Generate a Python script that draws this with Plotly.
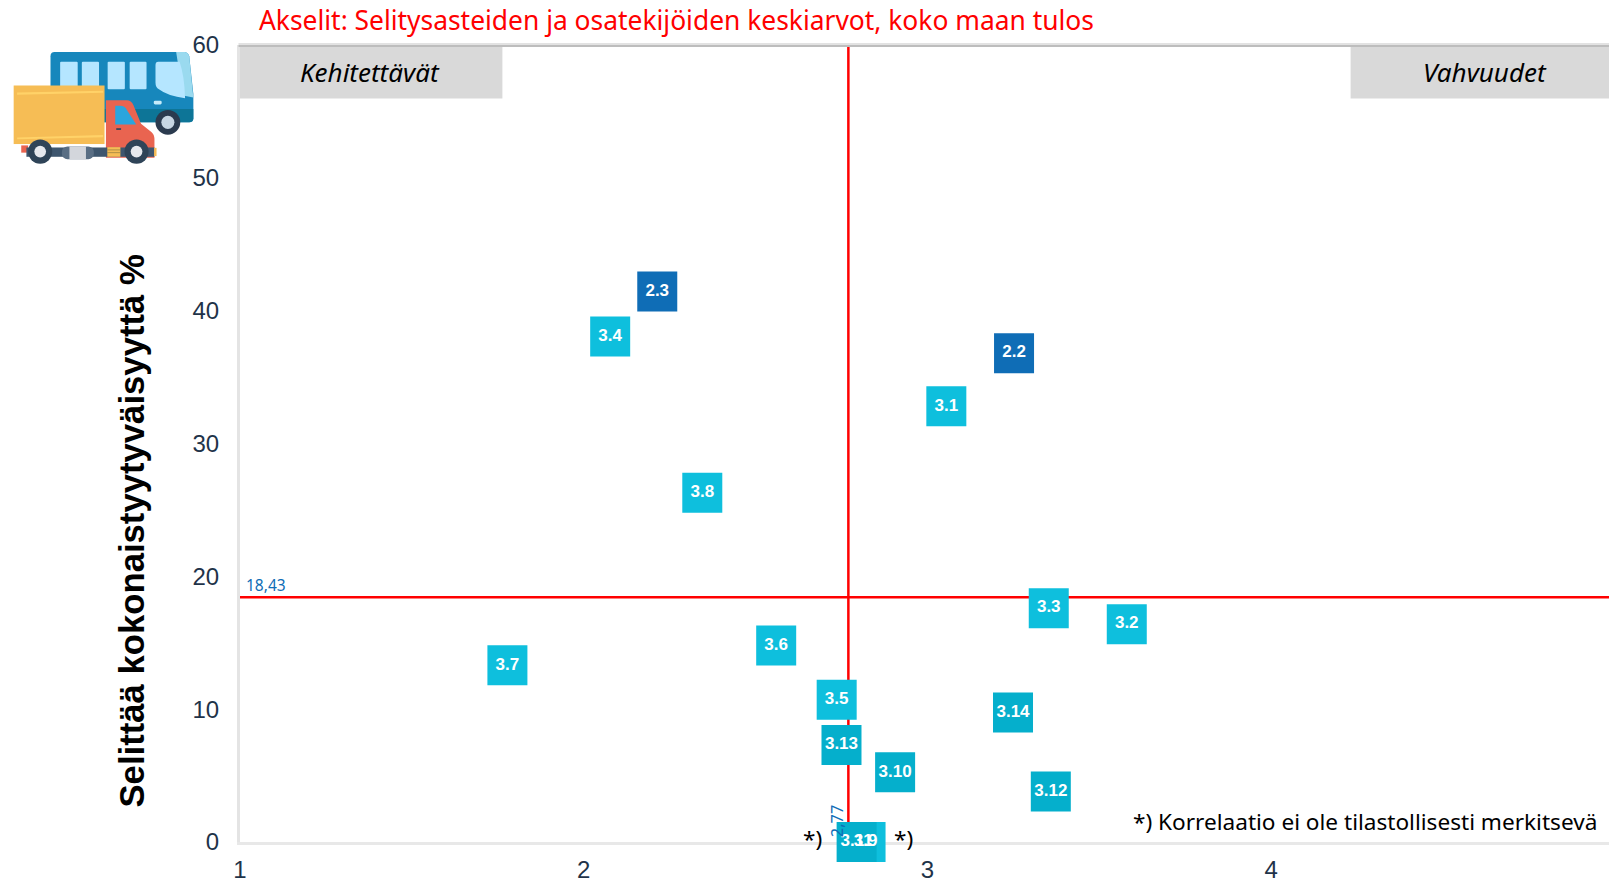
import base64
import plotly.graph_objects as go

W, H = 1609, 879
L, R, T, B = 239.5, 0, 45, 37

labels_a = ["2.3", "2.2"]
x_a = [2.214, 3.252]
y_a = [41.45, 36.8]

labels_b = ["3.4", "3.1", "3.8", "3.3", "3.2", "3.6", "3.7", "3.5", "3.9"]
x_b = [2.077, 3.055, 2.345, 3.353, 3.58, 2.56, 1.778, 2.736, 2.82]
y_b = [38.05, 32.8, 26.3, 17.6, 16.4, 14.8, 13.3, 10.7, 0.0]

labels_c = ["3.14", "3.13", "3.10", "3.12", "3.11"]
x_c = [3.249, 2.75, 2.906, 3.359, 2.794]
y_c = [9.75, 7.3, 5.25, 3.8, 0.0]

mean_x = 2.77
mean_y = 18.43
x_range = [1, 4.983]
y_range = [0, 60]
x_ticks = [1, 2, 3, 4]
y_ticks = [0, 10, 20, 30, 40, 50, 60]

TITLE = "Akselit: Selitysasteiden ja osatekijöiden keskiarvot, koko maan tulos"
Y_TITLE = "Selittää kokonaistyytyväisyyttä %"
NOTE = "*) Korrelaatio ei ole tilastollisesti merkitsevä"


def px(x):
    return (x - L) / (W - L - R)


def py(y):
    return 1 - (y - T) / (H - T - B)


ICON = """<svg xmlns='http://www.w3.org/2000/svg' viewBox='0 0 600 600' width='600' height='600'>
<path d='M145 172q0-12 12-12h375q12 0 16 12l12 110v70q0 12-12 12H145z' fill='#1787BC'/>
<path d='M145 325H560v27q0 12-12 12H145z' fill='#0D7597'/>
<path d='M510 160h24q10 0 14 12l12 120-30-6z' fill='#9ADAEF'/>
<rect x='173' y='188' width='51' height='80' rx='3' fill='#B5E6FF'/>
<rect x='236' y='188' width='50' height='80' rx='3' fill='#B5E6FF'/>
<rect x='311' y='188' width='50' height='80' rx='3' fill='#B5E6FF'/>
<rect x='375' y='188' width='49' height='80' rx='3' fill='#B5E6FF'/>
<path d='M458 188h62q14 40 16 106-50-6-76-26-10-6-10-20v-50q0-10 8-10z' fill='#B5E6FF'/>
<rect x='445' y='301' width='23' height='11' rx='4' fill='#C5EBFA'/>
<circle cx='486' cy='364' r='36' fill='#2B3B4F'/>
<circle cx='486' cy='364' r='19' fill='#C7D6E3'/>
<rect x='38' y='257' width='264' height='170' fill='#F6BD55'/>
<path d='M48 277l250-5v6l-250 6zM48 408l250-7v6l-250 6z' fill='#FFD268'/>
<path d='M306 300h60q14 0 20 14l22 54 30 24q9 8 9 20v55H306z' fill='#E96450'/>
<path d='M333 316h14q14 0 20 12l27 42h-61z' fill='#2BA5DD'/>
<rect x='336' y='381' width='14' height='5' fill='#33445A'/>
<rect x='60' y='431' width='20' height='21' fill='#E96450'/>
<rect x='75' y='437' width='372' height='27' fill='#3E566E'/>
<rect x='178' y='434' width='93' height='37' rx='16' fill='#596E84'/>
<rect x='200' y='434' width='48' height='37' fill='#D3D6DC'/>
<rect x='310' y='436' width='38' height='28' fill='#F6BD55'/>
<path d='M310 444h38M310 452h38' stroke='#8F7A40' stroke-width='2'/>
<rect x='446' y='438' width='7' height='24' fill='#F6BD55'/>
<circle cx='115' cy='449' r='35' fill='#2F4458'/>
<circle cx='115' cy='449' r='17' fill='#E6E9EE'/>
<circle cx='395' cy='449' r='35' fill='#2F4458'/>
<circle cx='395' cy='449' r='17' fill='#E6E9EE'/>
</svg>"""
ICON_URI = "data:image/svg+xml;base64," + base64.b64encode(ICON.encode()).decode()
ICON_PX = 600 / 2.904


def boxes(x, y, labels, color, name):
    return go.Scatter(
        x=x, y=y, text=labels, name=name, mode="markers",
        marker=dict(symbol="square", size=40, color=color, line=dict(width=0)),
        cliponaxis=False, hoverinfo="text", showlegend=False,
    )


def captions(x, y, labels, name):
    return go.Scatter(
        x=x, y=y, text=labels, name=name, mode="text",
        textposition="middle center",
        textfont=dict(family="Liberation Sans", size=17, color="white", weight="bold"),
        cliponaxis=False, hoverinfo="skip", showlegend=False,
    )


fig = go.Figure()
fig.add_trace(go.Scatter(x=[mean_x, mean_x], y=y_range, mode="lines",
                         line=dict(color="#FF0000", width=2.5), showlegend=False, hoverinfo="skip"))
fig.add_trace(go.Scatter(x=x_range, y=[mean_y, mean_y], mode="lines",
                         line=dict(color="#FF0000", width=2.5), showlegend=False, hoverinfo="skip"))
fig.add_trace(boxes(x_b, y_b, labels_b, "#0EBFDD", "3.x"))
fig.add_trace(boxes(x_c, y_c, labels_c, "#05AFCC", "3.1x"))
fig.add_trace(boxes(x_a, y_a, labels_a, "#0F6DB6", "2.x"))
fig.add_trace(captions(x_b, y_b, labels_b, "3.x labels"))
fig.add_trace(captions(x_c, y_c, labels_c, "3.1x labels"))
fig.add_trace(captions(x_a, y_a, labels_a, "2.x labels"))

shapes = [
    dict(type="rect", xref="paper", yref="paper", x0=px(238), x1=px(502), y0=py(45), y1=py(98.5),
         fillcolor="#D9D9D9", line_width=0, layer="below"),
    dict(type="rect", xref="paper", yref="paper", x0=px(1350.5), x1=px(1609), y0=py(45), y1=py(98.5),
         fillcolor="#D9D9D9", line_width=0, layer="below"),
    dict(type="rect", xref="paper", yref="paper", x0=px(238), x1=px(1609), y0=py(45), y1=py(47),
         fillcolor="#BDBDBD", line_width=0, layer="above"),
    dict(type="rect", xref="paper", yref="paper", x0=px(238), x1=px(1609), y0=py(43), y1=py(45),
         fillcolor="#E2E2E2", line_width=0, layer="above"),
]

fnt = "Noto Sans"
ann = [
    dict(x=px(257), y=py(20), xref="paper", yref="paper", xanchor="left", yanchor="middle", showarrow=False,
         text=TITLE, font=dict(family=fnt, size=26.4, color="#FF0000")),
    dict(x=px(370), y=py(72), xref="paper", yref="paper", xanchor="center", yanchor="middle", showarrow=False,
         text="<i>Kehitettävät</i>", font=dict(family=fnt, size=26, color="#000000")),
    dict(x=px(1485), y=py(72), xref="paper", yref="paper", xanchor="center", yanchor="middle", showarrow=False,
         text="<i>Vahvuudet</i>", font=dict(family=fnt, size=26, color="#000000")),
    dict(x=px(1599), y=py(821), xref="paper", yref="paper", xanchor="right", yanchor="middle", showarrow=False,
         text=NOTE, font=dict(family=fnt, size=22.6, color="#000000")),
    dict(x=px(812), y=py(838), xref="paper", yref="paper", xanchor="center", yanchor="middle", showarrow=False,
         text="*)", font=dict(family=fnt, size=22.6, color="#000000")),
    dict(x=px(903), y=py(838), xref="paper", yref="paper", xanchor="center", yanchor="middle", showarrow=False,
         text="*)", font=dict(family=fnt, size=22.6, color="#000000")),
    dict(x=px(244), y=py(585), xref="paper", yref="paper", xanchor="left", yanchor="middle", showarrow=False,
         text=f"{mean_y}".replace(".", ","), font=dict(family=fnt, size=15.5, color="#0F6DB6")),
    dict(x=px(836), y=py(821), xref="paper", yref="paper", xanchor="center", yanchor="middle", showarrow=False,
         textangle=-90, text=f"{mean_x}".replace(".", ","), font=dict(family=fnt, size=16.5, color="#0F6DB6")),
    dict(x=px(131), y=py(531), xref="paper", yref="paper", xanchor="center", yanchor="middle", showarrow=False,
         textangle=-90, text=Y_TITLE, font=dict(family="Liberation Sans", size=34.7, color="#000000", weight="bold")),
]

fig.update_layout(
    width=W, height=H, margin=dict(l=L, r=R, t=T, b=B, autoexpand=False),
    paper_bgcolor="white", plot_bgcolor="white", showlegend=False,
    shapes=shapes, annotations=ann,
    images=[dict(source=ICON_URI, xref="paper", yref="paper", x=px(0), y=py(-3),
                 sizex=ICON_PX / (W - L - R), sizey=ICON_PX / (H - T - B),
                 xanchor="left", yanchor="top", sizing="stretch", layer="above")],
    xaxis=dict(range=x_range, tickvals=x_ticks, showgrid=False, zeroline=False,
               showline=True, linecolor="#E8E8E8", linewidth=3, layer="below traces",
               ticks="outside", ticklen=4, tickcolor="white",
               tickfont=dict(family="Liberation Sans", size=24, color="#1F3349")),
    yaxis=dict(range=y_range, tickvals=y_ticks, showgrid=False, zeroline=False,
               showline=True, linecolor="#E4E4E4", linewidth=3, layer="below traces",
               ticks="outside", ticklen=13, tickcolor="white",
               tickfont=dict(family="Liberation Sans", size=24, color="#1F3349")),
)

fig.write_html("out.html", config={"displayModeBar": False},
               post_script="document.body.style.margin='0';document.body.style.overflow='hidden';")
